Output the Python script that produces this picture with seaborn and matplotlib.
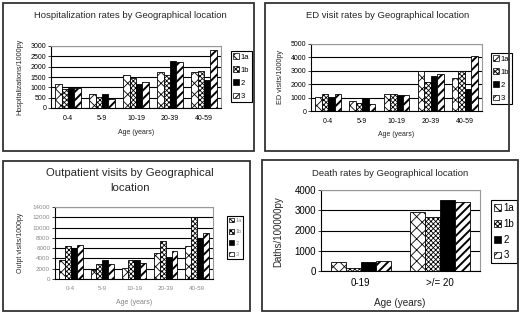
import numpy as np
import pandas as pd
import seaborn as sns
import matplotlib.pyplot as plt
import matplotlib.patches as mpatches

# ---- data ----
locs = ['1a', '1b', '2', '3']
ages5 = ['0-4', '5-9', '10-19', '20-39', '40-59']

hosp_1a = [1150, 700, 1600, 1725, 1725]
hosp_1b = [920, 530, 1450, 1600, 1775]
hosp_2 = [980, 700, 1160, 2290, 1370]
hosp_3 = [980, 450, 1260, 2225, 2800]

ed_1a = [1075, 775, 1300, 3000, 2500]
ed_1b = [1300, 600, 1300, 2150, 3000]
ed_2 = [1075, 1000, 1200, 2600, 1625]
ed_3 = [1300, 500, 1225, 2750, 4100]

op_1a = [3600, 1700, 2200, 5100, 6450]
op_1b = [6400, 3000, 3600, 7350, 12000]
op_2 = [5950, 3750, 3750, 4200, 7950]
op_3 = [6600, 2850, 3050, 5500, 8850]

death_ages = ['0-19', '>/= 20']
death_1a = [420, 2900]
death_1b = [150, 2650]
death_2 = [420, 3500]
death_3 = [480, 3400]

fills = ['white', 'white', 'black', 'white']
hatches = ['xxx', 'xxxxxxx', '', '////']
hatch_lw = [0.6, 0.6, 0.6, 1.4]

sns.set_style("white")
plt.rcParams['font.family'] = ['Liberation Sans', 'DejaVu Sans']
plt.rcParams['hatch.linewidth'] = 0.7

W, H = 520, 314
fig = plt.figure(figsize=(5.2, 3.14), dpi=100)


def px_axes(x0, y0, x1, y1):
    return fig.add_axes([x0 / W, 1 - y1 / H, (x1 - x0) / W, (y1 - y0) / H])


def ftext(x, y, s, **kw):
    fig.text(x / W, 1 - y / H, s, ha='center', va='center', **kw)


def frame(x0, y0, x1, y1):
    fig.patches.append(mpatches.Rectangle((x0 / W, 1 - y1 / H), (x1 - x0) / W, (y1 - y0) / H,
                                          transform=fig.transFigure, fill=False,
                                          edgecolor='#333333', lw=1.3))


def style_patch(p, h, hl):
    p.set_hatch(h)
    if hasattr(p, 'set_hatch_linewidth'):
        p.set_hatch_linewidth(hl)


def draw(ax, cats, series, ymax, step, fs, tcol='black', lw=0.6):
    df = pd.DataFrame({
        'age': np.tile(cats, len(locs)),
        'loc': np.repeat(locs, len(cats)),
        'rate': np.concatenate(series),
    })
    sns.barplot(data=df, x='age', y='rate', hue='loc', hue_order=locs, palette=fills,
                saturation=1, width=0.75, edgecolor='black', linewidth=lw,
                legend=False, ax=ax)
    for cont, h, hl in zip(ax.containers, hatches, hatch_lw):
        for bar in cont:
            style_patch(bar, h, hl)
    n = len(cats)
    ax.set_xlim(-0.5, n - 0.5)
    ax.set_ylim(0, ymax)
    ax.set_yticks(np.arange(0, ymax + 1, step))
    ax.set_yticklabels([str(v) for v in np.arange(0, ymax + 1, step)], fontsize=fs, color=tcol)
    ax.set_xticks(range(n))
    ax.set_xticklabels(cats, fontsize=fs, color=tcol)
    ax.set_xticks(np.arange(-0.5, n, 1), minor=True)
    ax.tick_params(axis='x', which='major', length=0, pad=5)
    ax.tick_params(axis='x', which='minor', length=3, direction='out', width=0.6)
    ax.tick_params(axis='y', length=2, width=0.6, pad=1.5, left=True)
    ax.yaxis.grid(True, color='black', lw=0.8)
    ax.set_axisbelow(True)
    ax.set_xlabel('')
    ax.set_ylabel('')
    for s in ['top', 'right']:
        ax.spines[s].set_color('#999999')
        ax.spines[s].set_linewidth(0.8)
    for s in ['left', 'bottom']:
        ax.spines[s].set_color('black')
        ax.spines[s].set_linewidth(0.8)


def legend(ax, x0, y0, fs, tcol='black', sp=0.6, hl=0.7):
    handles = []
    for f, h, w in zip(fills, hatches, hatch_lw):
        p = mpatches.Patch(facecolor=f, edgecolor='black', lw=0.5)
        style_patch(p, h, w)
        handles.append(p)
    leg = ax.legend(handles, locs, loc='upper left', bbox_to_anchor=(x0 / W, 1 - y0 / H),
                    bbox_transform=fig.transFigure, fontsize=fs, frameon=True, fancybox=False,
                    framealpha=1, edgecolor='black', handlelength=hl, handleheight=hl,
                    handletextpad=0.3, labelspacing=sp, borderpad=0.3, borderaxespad=0)
    leg.get_frame().set_linewidth(0.8)
    for t in leg.get_texts():
        t.set_color(tcol)


# panel frames
frame(3, 3, 254, 151)
frame(265, 3, 509, 151)
frame(3, 161, 250, 311)
frame(262, 160, 518, 311)

# Hospitalization
ax1 = px_axes(51, 46, 221, 108)
draw(ax1, ages5, [hosp_1a, hosp_1b, hosp_2, hosp_3], 3000, 500, 5)
legend(ax1, 231, 51, 5.5, sp=0.75)
ftext(130, 16, 'Hospitalization rates by Geographical location', fontsize=6.8)
ftext(20, 77, 'Hospitalizations/1000py', fontsize=5.2, rotation=90)
ftext(136, 133, 'Age (years)', fontsize=5)

# ED visits
ax2 = px_axes(311, 44, 482, 111)
draw(ax2, ages5, [ed_1a, ed_1b, ed_2, ed_3], 5000, 1000, 5)
legend(ax2, 491, 53, 5.5, sp=0.75)
ftext(388, 15, 'ED visit rates by Geographical location', fontsize=6.8)
ftext(280, 77, 'ED visits/1000py', fontsize=5.2, rotation=90)
ftext(396, 135, 'Age (years)', fontsize=5)

# Outpatient visits
ax3 = px_axes(55, 207, 213, 279)
draw(ax3, ages5, [op_1a, op_1b, op_2, op_3], 14000, 2000, 4.5, tcol='#888888')
legend(ax3, 227, 216, 4, tcol='#888888', sp=1.1, hl=0.9)
ftext(130, 173, 'Outpatient visits by Geographical', fontsize=8.2)
ftext(130, 188, 'location', fontsize=8.2)
ftext(20, 243, 'Outpt visits/1000py', fontsize=5, rotation=90)
ftext(134, 303, 'Age (years)', fontsize=5, color='#888888')

# Deaths
ax4 = px_axes(321, 190, 480, 271)
draw(ax4, death_ages, [death_1a, death_1b, death_2, death_3], 4000, 1000, 7)
legend(ax4, 491, 200, 7, sp=0.6, hl=0.7)
ftext(390, 173, 'Death rates by Geographical location', fontsize=6.8)
ftext(278, 232, 'Daths/100000py', fontsize=7, rotation=90)
ftext(400, 303, 'Age (years)', fontsize=7.2)

fig.savefig('out.png', dpi=100)
